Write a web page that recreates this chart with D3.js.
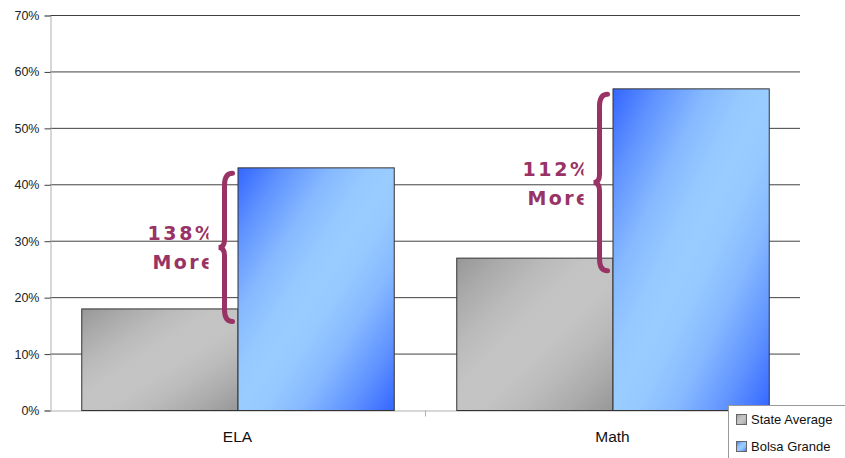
<!DOCTYPE html>
<html>
<head>
<meta charset="utf-8">
<script src="https://cdn.jsdelivr.net/npm/d3@7"></script>
<style>
body{margin:0;background:#fff;}
svg{display:block;}
</style>
</head>
<body>
<div id="chart"></div>
<script>
// data
var categories=["ELA","Math"];
var seriesNames=["State Average","Bolsa Grande"];
var stateAvg=[18,27];
var bolsa=[43,57];
var moreLabels=["138%","112%"];
var yTicks=[0,10,20,30,40,50,60,70];

var width=845,height=458;
var plotLeft=50,plotRight=800,plotTop=15,plotBottom=410;

var svg=d3.select("#chart").append("svg")
	.attr("width",width)
	.attr("height",height);

var defs=svg.append("defs");
function addGrad(id,c1,c2){
	var g=defs.append("linearGradient").attr("id",id)
		.attr("x1",0).attr("y1",0).attr("x2",1).attr("y2",1);
	var mix=d3.interpolateRgb(c1,c2);
	[0,0.15,0.3,0.42,0.5,0.58,0.7,0.85,1].forEach(function(o){
		var t=Math.sin(Math.PI*o);
		g.append("stop").attr("offset",(o*100)+"%").attr("stop-color",mix(t));
	});
}
addGrad("gGray","#979797","#c4c4c4");
addGrad("gBlue","#3366ff","#99ccff");

var y=d3.scaleLinear().domain([0,70]).range([plotBottom,plotTop]);
var x0=d3.scaleBand().domain(categories).range([plotLeft,plotRight]);
var x1=d3.scaleBand().domain(seriesNames).range([0,x0.bandwidth()]).paddingOuter(0.2).paddingInner(0);

// grid
svg.append("g").selectAll("line")
	.data(yTicks.filter(function(d){return d>0;}))
	.enter().append("line")
	.attr("x1",plotLeft).attr("x2",plotRight)
	.attr("y1",function(d){return y(d)+0.5;})
	.attr("y2",function(d){return y(d)+0.5;})
	.attr("stroke","#404040").attr("stroke-width",1);

// y axis
var yAxis=d3.axisLeft(y).tickValues(yTicks).tickSize(6).tickPadding(5)
	.tickFormat(function(d){return d+"%";});
var gy=svg.append("g").attr("transform","translate("+(plotLeft+0.5)+",0.5)").call(yAxis);
gy.select(".domain").attr("stroke","#b0b0b0");
gy.selectAll(".tick line").attr("stroke","#404040");
gy.selectAll("text").attr("font-family","Liberation Sans, Arial, sans-serif")
	.attr("font-size","12.5px").attr("fill","#222");

// x axis
var xAxis=d3.axisBottom(x0).tickSize(0).tickPadding(20);
var gx=svg.append("g").attr("transform","translate(0,"+(plotBottom+0.5)+")").call(xAxis);
gx.select(".domain").attr("stroke","#b0b0b0");
gx.selectAll("text").attr("font-family","Liberation Sans, Arial, sans-serif")
	.attr("font-size","15.5px").attr("fill","#111");
gx.append("line").attr("x1",x0("Math")+0.5).attr("x2",x0("Math")+0.5)
	.attr("y1",0).attr("y2",6).attr("stroke","#b0b0b0");

// bars
var rows=categories.map(function(c,i){return {cat:c,vals:[stateAvg[i],bolsa[i]]};});
var groups=svg.append("g").selectAll("g").data(rows).enter().append("g")
	.attr("transform",function(d){return "translate("+x0(d.cat)+",0)";});
groups.selectAll("rect").data(function(d){return d.vals.map(function(v,j){return {s:seriesNames[j],v:v};});})
	.enter().append("rect")
	.attr("x",function(d){return x1(d.s)+0.5;})
	.attr("y",function(d){return y(d.v)+0.5;})
	.attr("width",x1.bandwidth())
	.attr("height",function(d){return plotBottom-y(d.v);})
	.attr("fill",function(d,j){return j==0?"url(#gGray)":"url(#gBlue)";})
	.attr("stroke","#333").attr("stroke-width",1);

// braces + labels
var maroon="#993366";
rows.forEach(function(d,i){
	var bx=x0(d.cat)+x1("Bolsa Grande");
	var yt=y(d.vals[1])+6, yb=y(d.vals[0])+13, ym=(yt+yb)/2;
	var xr=bx-5, xl=bx-19, xc=bx-13;
	var p="M"+(xr)+","+yt+
		" Q"+xc+","+yt+" "+xc+","+(yt+12)+
		" L"+xc+","+(ym-8)+
		" Q"+xc+","+ym+" "+xl+","+ym+
		" Q"+xc+","+ym+" "+xc+","+(ym+8)+
		" L"+xc+","+(yb-12)+
		" Q"+xc+","+yb+" "+xr+","+yb;
	svg.append("path").attr("d",p).attr("fill","none")
		.attr("stroke",maroon).attr("stroke-width",5).attr("stroke-linecap","round");
	var clipId="clip"+i;
	defs.append("clipPath").attr("id",clipId).append("rect")
		.attr("x",bx-110).attr("y",0).attr("width",81).attr("height",height);
	var t=svg.append("g").attr("clip-path","url(#"+clipId+")");
	t.append("text").attr("x",bx-90).attr("y",ym-7).text(moreLabels[i])
		.attr("font-family","DejaVu Sans, Verdana, sans-serif").attr("font-weight","bold")
		.attr("font-size","19px").attr("letter-spacing","2.6px").attr("fill",maroon);
	t.append("text").attr("x",bx-85).attr("y",ym+22).text("More")
		.attr("font-family","DejaVu Sans, Verdana, sans-serif").attr("font-weight","bold")
		.attr("font-size","19px").attr("letter-spacing","2.4px").attr("fill",maroon);
});

// legend
var lg=svg.append("g").attr("transform","translate(728,405)");
lg.append("rect").attr("x",2).attr("y",2).attr("width",130).attr("height",60).attr("fill","#ccc");
lg.append("rect").attr("x",0.5).attr("y",0.5).attr("width",130).attr("height",60)
	.attr("fill","#fff").attr("stroke","#999");
var li=lg.selectAll("g.item").data(seriesNames).enter().append("g").attr("class","item")
	.attr("transform",function(d,i){return "translate(8,"+(9+i*27)+")";});
li.append("rect").attr("width",10).attr("height",10).attr("x",0.5).attr("y",0.5)
	.attr("fill",function(d,i){return i==0?"url(#gGray)":"url(#gBlue)";})
	.attr("stroke","#666");
li.append("text").attr("x",15).attr("y",10).text(function(d){return d;})
	.attr("font-family","Liberation Sans, Arial, sans-serif").attr("font-size","13px").attr("fill","#111");
</script>
</body>
</html>
